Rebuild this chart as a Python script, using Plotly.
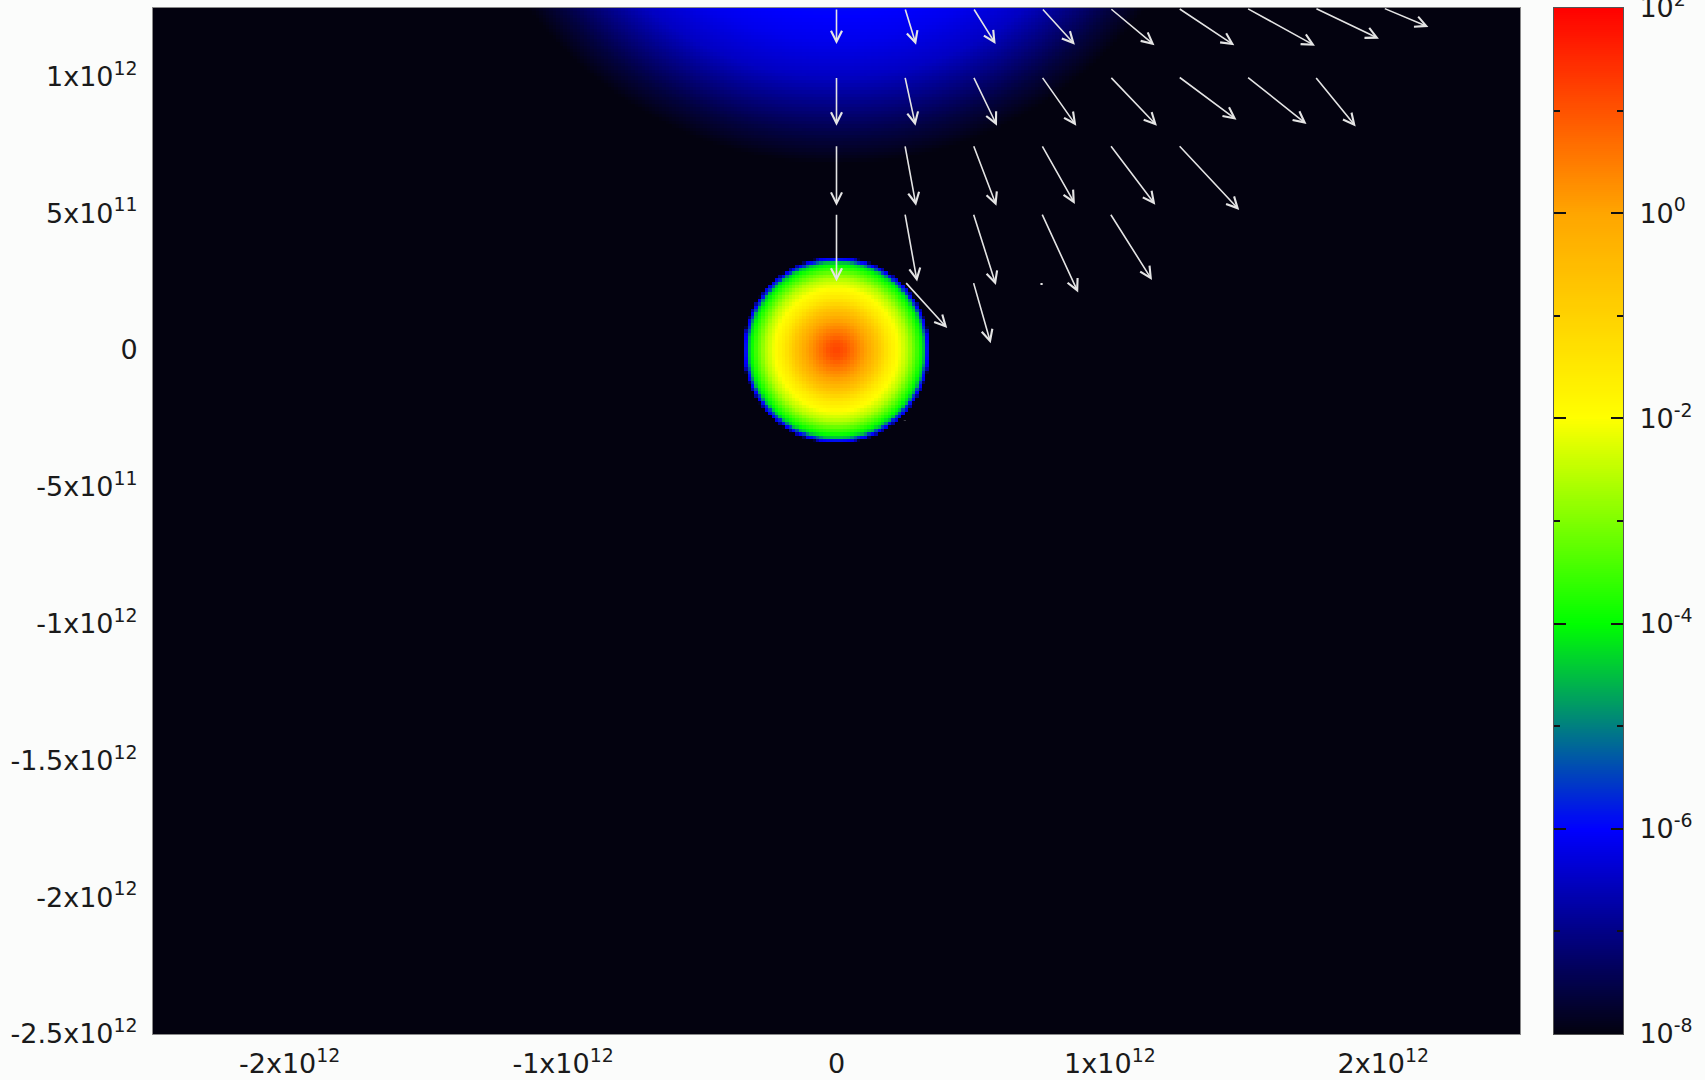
import numpy as np
import plotly.graph_objects as go

# ---------------- tick labels ----------------
x_tickvals = [-2e12, -1e12, 0, 1e12, 2e12]
x_ticktext = ['-2x10<sup>12</sup>', '-1x10<sup>12</sup>', '0', '1x10<sup>12</sup>', '2x10<sup>12</sup>']
y_tickvals = [1e12, 5e11, 0, -5e11, -1e12, -1.5e12, -2e12, -2.5e12]
y_ticktext = ['1x10<sup>12</sup>', '5x10<sup>11</sup>', '0', '-5x10<sup>11</sup>', '-1x10<sup>12</sup>',
              '-1.5x10<sup>12</sup>', '-2x10<sup>12</sup>', '-2.5x10<sup>12</sup>']
cb_tickvals = [-8, -6, -4, -2, 0, 2]
cb_ticktext = ['10<sup>-8</sup>', '10<sup>-6</sup>', '10<sup>-4</sup>', '10<sup>-2</sup>', '10<sup>0</sup>', '10<sup>2</sup>']
cb_minorvals = [-7, -5, -3, -1, 1]

# ---------------- density field ----------------
# central star: radius from (0,0) [m] -> log10 density
core_r = [0, 0.03e12, 0.07e12, 0.11e12, 0.15e12, 0.19e12, 0.225e12, 0.26e12, 0.29e12,
          0.31e12, 0.322e12, 0.330e12, 0.337e12, 0.342e12]
core_logrho = [1.2, 1.0, 0.5, 0.0, -0.7, -1.5, -2.0, -2.6, -3.4, -4.0, -4.6, -5.8, -6.2, -8.0]
# diffuse blue cloud at the top, distance from its centre -> log10 density
halo_cx = 0.0
halo_cy = 2.08e12
halo_d = [0.80e12, 0.95e12, 1.08e12, 1.20e12, 1.30e12, 1.40e12]
halo_logrho = [-5.9, -6.15, -6.5, -7.1, -7.6, -8.0]
floor_logrho = -8.0

# ---------------- velocity vectors (tail x, tail y, dx, dy) ----------------
vec_x = [0, 0.25e12, 0.5e12, 0.75e12, 1.0e12, 1.25e12, 1.5e12, 1.75e12, 2.0e12,
         0, 0.25e12, 0.5e12, 0.75e12, 1.0e12, 1.25e12, 1.5e12, 1.75e12,
         0, 0.25e12, 0.5e12, 0.75e12, 1.0e12, 1.25e12,
         0, 0.25e12, 0.5e12, 0.75e12, 1.0e12,
         0.25e12, 0.5e12, 0.75e12,
         0.25e12]
vec_y = [1.25e12] * 9 + [1.0e12] * 8 + [0.75e12] * 6 + [0.5e12] * 5 + [0.25e12] * 3 + [-0.25e12]
vec_u = [0.000e12, 0.041e12, 0.082e12, 0.122e12, 0.163e12, 0.205e12, 0.250e12, 0.234e12, 0.165e12,
         0.000e12, 0.039e12, 0.087e12, 0.127e12, 0.172e12, 0.213e12, 0.219e12, 0.149e12,
         0.000e12, 0.041e12, 0.085e12, 0.122e12, 0.166e12, 0.223e12,
         0.000e12, 0.045e12, 0.083e12, 0.134e12, 0.154e12,
         0.155e12, 0.064e12, 0.000e12,
         0.000e12]
vec_v = [-0.132e12, -0.134e12, -0.132e12, -0.134e12, -0.136e12, -0.136e12, -0.138e12, -0.112e12, -0.069e12,
         -0.180e12, -0.180e12, -0.180e12, -0.180e12, -0.180e12, -0.158e12, -0.174e12, -0.183e12,
         -0.223e12, -0.223e12, -0.223e12, -0.216e12, -0.219e12, -0.238e12,
         -0.250e12, -0.250e12, -0.262e12, -0.290e12, -0.244e12,
         -0.170e12, -0.225e12, -0.012e12,
         -0.007e12]

# ---------------- build grid ----------------
step = 0.0125e12
xs = np.arange(-2.5e12 + step / 2, 2.5e12, step)
ys = np.arange(-2.5e12 + step / 2, 1.25e12, step)
X, Y = np.meshgrid(xs, ys)
R = np.hypot(X, Y)
core = np.interp(R, core_r, core_logrho, right=floor_logrho)
D = np.hypot(X - halo_cx, Y - halo_cy)
halo = np.interp(D, halo_d, halo_logrho, left=halo_logrho[0], right=floor_logrho)
Z = np.maximum(np.maximum(core, halo), floor_logrho)

colorscale = [[0.0, '#03020f'], [0.2, '#0000ff'], [0.4, '#00ff00'],
              [0.6, '#ffff00'], [0.8, '#ffa500'], [1.0, '#ff0000']]

W, H = 1705, 1080
ml, mr, mt, mb = 153, 82, 8, 46
pw = W - ml - mr
main_end = (1520 - ml) / pw
cb_start = (1554 - ml) / pw

FONT = dict(family='DejaVu Sans', size=27, color='#1a1a1a')
AXCOL = '#8a8a8a'

fig = go.Figure()
fig.add_trace(go.Heatmap(x=xs, y=ys, z=Z, colorscale=colorscale, zmin=-8, zmax=2,
                         showscale=False, zsmooth=False, hoverinfo='skip'))

cb_y = np.linspace(-8, 2, 501)
fig.add_trace(go.Heatmap(x=[0], y=cb_y, z=[[v] for v in cb_y], colorscale=colorscale,
                         zmin=-8, zmax=2, showscale=False, xaxis='x2', yaxis='y2',
                         hoverinfo='skip'))

for x0, y0, u, v in zip(vec_x, vec_y, vec_u, vec_v):
    tiny = np.hypot(u, v) < 0.03e12
    fig.add_annotation(x=x0 + u, y=y0 + v, ax=x0, ay=y0, xref='x', yref='y',
                       axref='x', ayref='y', text='', showarrow=True,
                       arrowhead=0 if tiny else 5, arrowsize=1.35,
                       arrowwidth=2.2 if tiny else 1.6, arrowcolor='#e4e4e4', standoff=0)

fig.update_layout(
    width=W, height=H,
    margin=dict(l=ml, r=mr, t=mt, b=mb, pad=0, autoexpand=False),
    paper_bgcolor='#fbfcfb', plot_bgcolor='#03020f',
    font=FONT, showlegend=False,
    xaxis=dict(domain=[0, main_end], anchor='y', range=[-2.5e12, 2.5e12],
               tickmode='array', tickvals=x_tickvals, ticktext=x_ticktext,
               showgrid=False, zeroline=False, showline=True, linecolor=AXCOL, linewidth=1,
               mirror=True, ticks='', ticklabelstandoff=6, tickfont=FONT, automargin=False),
    yaxis=dict(domain=[0, 1], anchor='x', range=[-2.5e12, 1.25e12],
               tickmode='array', tickvals=y_tickvals, ticktext=y_ticktext,
               showgrid=False, zeroline=False, showline=True, linecolor=AXCOL, linewidth=1,
               mirror=True, ticks='', ticklabelstandoff=9, tickfont=FONT, automargin=False),
    xaxis2=dict(domain=[cb_start, 1], anchor='y2', range=[-0.5, 0.5], showticklabels=False,
                showgrid=False, zeroline=False, showline=True, linecolor='#555555',
                mirror=True, ticks='', automargin=False),
    yaxis2=dict(domain=[0, 1], anchor='x2', side='right', range=[-8, 2],
                tickmode='array', tickvals=cb_tickvals, ticktext=cb_ticktext,
                ticks='inside', ticklen=12, tickwidth=1.5, tickcolor='#111111',
                minor=dict(tickmode='array', tickvals=cb_minorvals, ticks='inside',
                           ticklen=6, tickwidth=1.5, tickcolor='#111111', showgrid=False),
                showgrid=False, zeroline=False, showline=True, linecolor='#555555',
                mirror='ticks', ticklabelstandoff=10, ticklabeloverflow='allow',
                tickfont=FONT, automargin=False),
)

fig.write_html('out.html')
